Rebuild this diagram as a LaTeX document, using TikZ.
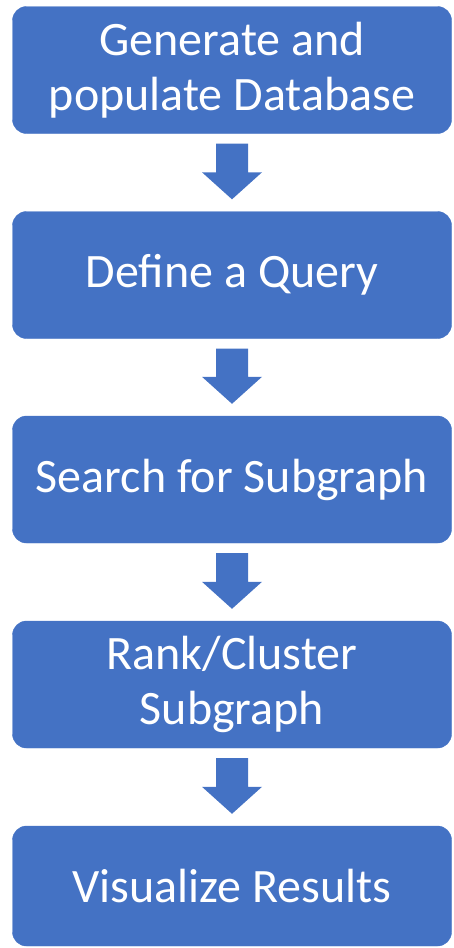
\documentclass[tikz,border=0pt]{standalone}
\usepackage{fontspec}
\setmainfont{Carlito}
\usetikzlibrary{calc}
\definecolor{officeblue}{HTML}{4472C4}
\tikzset{
  stepbox/.style={fill=officeblue, draw=officeblue, rounded corners=14pt, minimum width=439pt,
    minimum height=127pt, inner sep=0pt, text=white, align=center,
    font=\fontsize{48}{55}\selectfont},
  arrowfill/.style={fill=officeblue}
}
\newcommand\flowarrow[2]{%
  \fill[arrowfill] ($(#1.south)+(-16,10)$) -- ($(#1.south)+(16,10)$)
    -- ($(#2.north)+(16,-39)$) -- ($(#2.north)+(30,-39)$)
    -- ($(#2.north)+(0,-12)$) -- ($(#2.north)+(-30,-39)$)
    -- ($(#2.north)+(-16,-39)$) -- cycle;}
\begin{document}
\begin{tikzpicture}[x=1pt,y=-1pt]
\useasboundingbox (0,0) rectangle (453,948);
\node[stepbox] (b1) at (232,70) {Generate and\\populate Database};
\node[stepbox] (b2) at (232,275) {Define a Query};
\node[stepbox] (b3) at (232,479.5) {Search for Subgraph};
\node[stepbox] (b4) at (232,684.5) {Rank/Cluster\\Subgraph};
\node[stepbox, minimum height=120pt] (b5) at (232,886) {Visualize Results};
\flowarrow{b1}{b2}
\flowarrow{b2}{b3}
\flowarrow{b3}{b4}
\flowarrow{b4}{b5}
\end{tikzpicture}
\end{document}
